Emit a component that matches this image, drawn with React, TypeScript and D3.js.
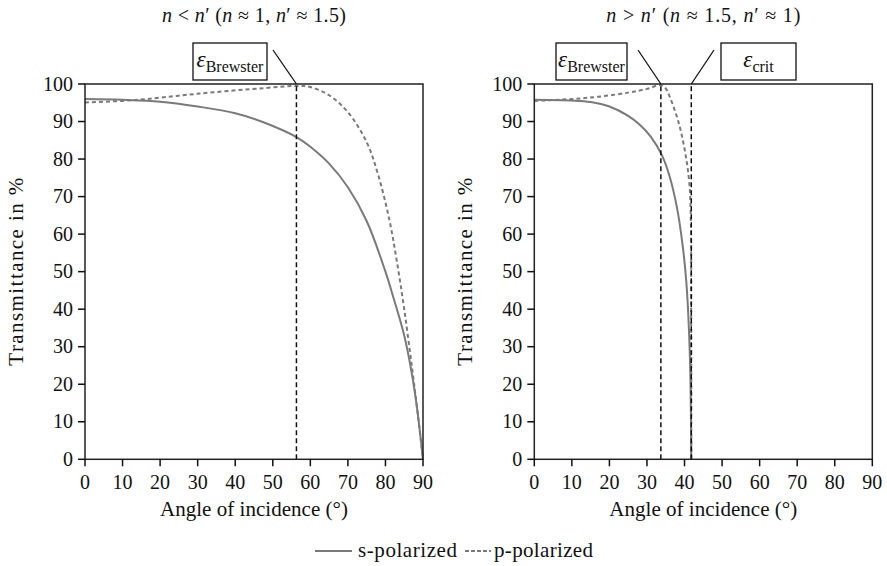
import React from 'react';
import * as d3 from 'd3';

// angles (deg) and transmittance (%)
const leftSAngles = [0, 10, 20, 30, 40, 47.5, 56.4, 60, 65, 70, 75, 80, 82, 85, 87, 88.5, 90];
const leftSValues = [96, 95.8, 95.3, 94, 92.2, 89.8, 85.8, 83.3, 78.8, 72.5, 63.5, 50, 43.5, 33, 23, 13, 0];
const leftPAngles = [0, 10, 16.4, 25, 34.2, 47.5, 56.4, 60, 65, 70, 75, 78, 81, 83, 85, 87, 88.5, 90];
const leftPValues = [95.1, 95.5, 96, 96.9, 97.8, 98.9, 99.5, 99.2, 97, 92.5, 84.5, 76, 64, 53, 40, 25, 13, 0];

const rightSAngles = [0, 10, 15, 20, 25, 28, 31, 34, 36, 38, 39.5, 40.5, 41.2, 41.6, 41.8];
const rightSValues = [95.8, 95.6, 95.2, 94, 91.5, 89.2, 86, 81, 75.5, 67, 57, 47, 34, 20, 0];
const rightPAngles = [0, 10, 17, 25, 30, 33.7, 35, 36.1, 38.3, 40.1, 41.3, 41.7, 41.78, 41.8];
const rightPValues = [95.5, 96, 96.6, 97.7, 98.7, 99.7, 98.8, 96.5, 90.2, 82.2, 73.4, 62.7, 40, 0];

const xTicks = [0, 10, 20, 30, 40, 50, 60, 70, 80, 90];
const yTicks = [0, 10, 20, 30, 40, 50, 60, 70, 80, 90, 100];

const brewsterLeft = 56.3;
const brewsterRight = 33.7;
const critRight = 41.8;

const FONT = '"Liberation Serif", "DejaVu Serif", serif';
const CURVE = '#7a7a7a';

type Pt = [number, number];
const zip = (a: number[], b: number[]): Pt[] => a.map((v, i) => [v, b[i]]);

const Eps = ({ sub }: { sub: string }) => (
  <>
    <tspan fontStyle="italic" fontSize={23}>ε</tspan>
    <tspan fontSize={16} dy={5}>{sub}</tspan>
  </>
);

type Callout = { box: [number, number, number, number]; from: Pt; angle: number; sub: string };

const Panel = ({ x0, s, p, lines, callouts, title, titleLen }: {
  x0: number; s: Pt[]; p: Pt[]; lines: number[]; callouts: Callout[]; title: React.ReactNode; titleLen: number;
}) => {
  const x = d3.scaleLinear().domain([0, 90]).range([x0, x0 + 338]);
  const y = d3.scaleLinear().domain([0, 100]).range([459.3, 84]);
  const line = d3.line<Pt>().x(d => x(d[0])).y(d => y(d[1])).curve(d3.curveCatmullRom.alpha(0.5));
  const cx = (x(0) + x(90)) / 2;
  return (
    <g fontFamily={FONT} fill="#111">
      <text x={cx} y={22} textAnchor="middle" fontSize={20} textLength={titleLen} lengthAdjust="spacing">{title}</text>
      <text transform={`translate(${x0 - 62},${(y(0) + y(100)) / 2}) rotate(-90)`} textAnchor="middle" fontSize={21}
        textLength={188} lengthAdjust="spacing">
        Transmittance in %
      </text>
      <text x={cx} y={516} textAnchor="middle" fontSize={21} textLength={188} lengthAdjust="spacing">Angle of incidence (°)</text>
      <path d={line(s) || ''} fill="none" stroke={CURVE} strokeWidth={2} />
      <path d={line(p) || ''} fill="none" stroke={CURVE} strokeWidth={2} strokeDasharray="4,3" />
      {lines.map(a => (
        <line key={a} x1={x(a)} x2={x(a)} y1={y(0)} y2={y(100)} stroke="#111" strokeWidth={1.5} strokeDasharray="5,3" />
      ))}
      {/* frame */}
      <rect x={x(0)} y={y(100)} width={x(90) - x(0)} height={y(0) - y(100)} fill="none" stroke="#222" strokeWidth={1.5} />
      {xTicks.map(t => (
        <g key={t}>
          <line x1={x(t)} x2={x(t)} y1={y(0)} y2={y(0) + 7} stroke="#111" strokeWidth={1.5} />
          <text x={x(t)} y={489} textAnchor="middle" fontSize={20}>{t}</text>
        </g>
      ))}
      {yTicks.map(t => (
        <g key={t}>
          <line x1={x(0) - 7} x2={x(0)} y1={y(t)} y2={y(t)} stroke="#111" strokeWidth={1.5} />
          <text x={x(0) - 12} y={y(t) + 6.5} textAnchor="end" fontSize={20}>{t}</text>
        </g>
      ))}
      {callouts.map((c, i) => (
        <g key={i}>
          <rect x={c.box[0]} y={c.box[1]} width={c.box[2]} height={c.box[3]} fill="#fff" stroke="#111" strokeWidth={1.3} />
          <text x={c.box[0] + c.box[2] / 2} y={c.box[1] + 24} textAnchor="middle"><Eps sub={c.sub} /></text>
          <line x1={c.from[0]} y1={c.from[1]} x2={x(c.angle)} y2={y(100)} stroke="#111" strokeWidth={1.3} />
        </g>
      ))}
    </g>
  );
};

const It = ({ children }: { children: React.ReactNode }) => <tspan fontStyle="italic">{children}</tspan>;

export default function App() {
  return (
    <svg width={887} height={566} style={{ position: 'absolute', left: 0, top: 0, background: '#fff' }}>
      <Panel
        x0={85}
        s={zip(leftSAngles, leftSValues)}
        p={zip(leftPAngles, leftPValues)}
        lines={[brewsterLeft]}
        titleLen={184}
        callouts={[{ box: [193, 43, 74, 37], from: [273, 50], angle: brewsterLeft, sub: 'Brewster' }]}
        title={<><It>n</It> &lt; <It>n</It>′ (<It>n</It> ≈ 1, <It>n</It>′ ≈ 1.5)</>}
      />
      <Panel
        x0={534.3}
        s={zip(rightSAngles, rightSValues)}
        p={zip(rightPAngles, rightPValues)}
        lines={[brewsterRight, critRight]}
        titleLen={194}
        callouts={[
          { box: [556, 43, 71, 37], from: [638, 50], angle: brewsterRight, sub: 'Brewster' },
          { box: [721, 43, 75, 37], from: [714, 50], angle: critRight, sub: 'crit' },
        ]}
        title={<><It>n</It> &gt; <It>n</It>′ (<It>n</It> ≈ 1.5, <It>n</It>′ ≈ 1)</>}
      />
      <g fontFamily={FONT} fontSize={21} fill="#111">
        <line x1={315} x2={352} y1={551} y2={551} stroke={CURVE} strokeWidth={2} />
        <text x={358} y={557} textLength={99} lengthAdjust="spacing">s-polarized</text>
        <line x1={465} x2={491} y1={551} y2={551} stroke={CURVE} strokeWidth={2} strokeDasharray="4,2" />
        <text x={494} y={557} textLength={99} lengthAdjust="spacing">p-polarized</text>
      </g>
    </svg>
  );
}
